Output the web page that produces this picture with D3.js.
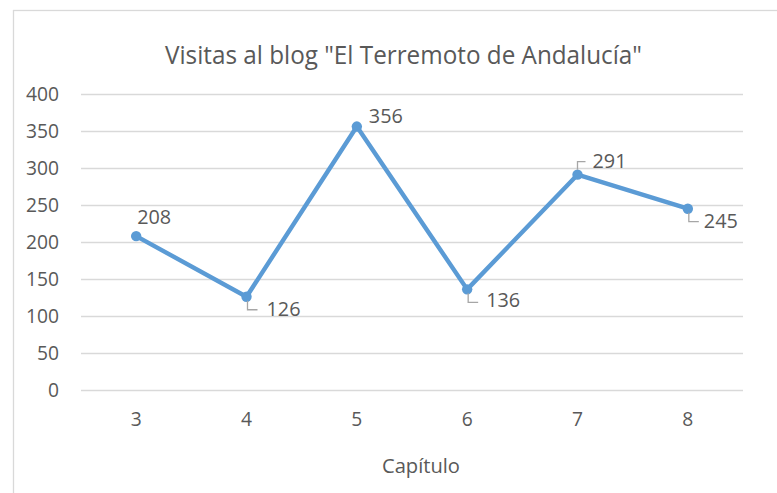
<!DOCTYPE html>
<html><head><meta charset="utf-8">
<script src="https://cdn.jsdelivr.net/npm/d3@7"></script>
<style>body{margin:0;background:#fff}svg{display:block}text{font-family:"Open Sans",sans-serif;fill:#595959}</style>
</head><body><svg width="777" height="493"></svg>
<script>
const categories = ["3","4","5","6","7","8"];
const visits = [208,126,356,136,291,245];
const yTicks = [0,50,100,150,200,250,300,350,400];
const titleText = 'Visitas al blog "El Terremoto de Andalucía"';
const xTitle = "Capítulo";
// label placement style: dx, dy from point (text centre); leader: "none","down","up"
const labelLayout = [
  {dx:1, dy:-20, leader:"none"},
  {dx:20, dy:12, leader:"down"},
  {dx:12, dy:-11, leader:"none"},
  {dx:19, dy:10, leader:"down"},
  {dx:15, dy:-14, leader:"up"},
  {dx:16, dy:12, leader:"down"}
];

const svg = d3.select("svg");
svg.append("rect").attr("x",13.5).attr("y",10.5).attr("width",800).attr("height",520)
  .attr("fill","#fff").attr("stroke","#d9d9d9").attr("stroke-width",1.3);

const x = d3.scaleBand().domain(categories).range([81,743]).padding(0);
const y = d3.scaleLinear().domain([0,400]).range([390,94]);

function fitText(sel, w){ sel.attr("textLength", w).attr("lengthAdjust","spacingAndGlyphs"); }

svg.append("text").attr("x",403.5).attr("y",64).attr("text-anchor","middle")
  .style("font-size","25px").text(titleText).call(fitText,477);

const yAxis = d3.axisLeft(y).tickValues(yTicks).tickSize(-(743-81)).tickPadding(22);
const gy = svg.append("g").attr("transform","translate(81,0)").call(yAxis);
gy.select(".domain").remove();
gy.selectAll(".tick line").attr("stroke","#d9d9d9").attr("stroke-width",1.3);
gy.selectAll(".tick text").style("font-size","20px").attr("fill","#595959").style("font-family","Open Sans")
  .each(function(){ const t=d3.select(this); const n=t.text().length; t.call(fitText, n*11); });

const xAxis = d3.axisBottom(x).tickSize(0).tickPadding(22);
const gx = svg.append("g").attr("transform","translate(0,390)").call(xAxis);
gx.select(".domain").remove();
gx.selectAll(".tick text").style("font-size","20px").attr("fill","#595959").style("font-family","Open Sans")
  .each(function(){ d3.select(this).call(fitText, 11); });

svg.append("text").attr("x",421).attr("y",473).attr("text-anchor","middle")
  .style("font-size","20px").text(xTitle).call(fitText,78);

const pts = categories.map((c,i)=>({c, v:visits[i], l:labelLayout[i]}));
const cx = d=>x(d.c)+x.bandwidth()/2;

svg.append("path").datum(pts)
  .attr("d", d3.line().x(cx).y(d=>y(d.v)))
  .attr("fill","none").attr("stroke","#5b9bd5").attr("stroke-width",4.4).attr("stroke-linejoin","round").attr("stroke-linecap","round");

svg.selectAll("circle.m").data(pts).join("circle").attr("class","m")
  .attr("cx",cx).attr("cy",d=>y(d.v)).attr("r",5.2).attr("fill","#5b9bd5");

svg.selectAll("path.leader").data(pts.filter(d=>d.l.leader!=="none")).join("path").attr("class","leader")
  .attr("d", d=>{
    const px=cx(d), py=y(d.v);
    if(d.l.leader==="down") return `M${px+1},${py+4}L${px+1},${py+13}L${px+11},${py+13}`;
    return `M${px},${py-5}L${px},${py-13}L${px+8},${py-13}`;
  })
  .attr("fill","none").attr("stroke","#a6a6a6").attr("stroke-width",1.3);

svg.selectAll("text.lbl").data(pts).join("text").attr("class","lbl")
  .attr("x",d=>cx(d)+d.l.dx).attr("y",d=>y(d.v)+d.l.dy)
  .attr("dominant-baseline","central")
  .style("font-size","20px").text(d=>d.v)
  .each(function(){ d3.select(this).call(fitText, 34); });
</script></body></html>
